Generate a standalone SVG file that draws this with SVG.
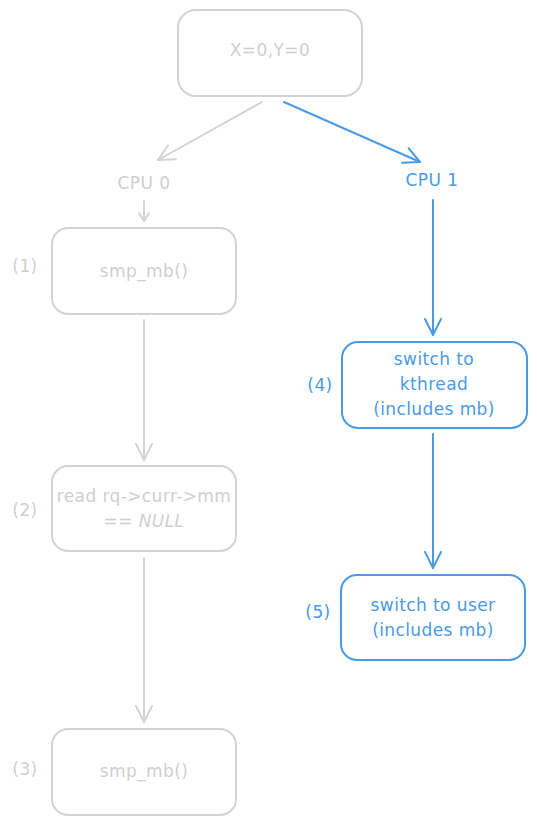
<svg xmlns="http://www.w3.org/2000/svg" width="537" height="825" viewBox="0 0 537 825">
<style>
.g{fill:none;stroke:#d3d3d3;stroke-width:2;stroke-linecap:round;stroke-linejoin:round}
.b{fill:none;stroke:#4a9be3;stroke-width:2;stroke-linecap:round;stroke-linejoin:round}
.tg{font-family:"DejaVu Sans","Liberation Sans",sans-serif;font-size:17px;letter-spacing:0.4px;fill:#cfcfcf;text-anchor:middle}
.tb{font-family:"DejaVu Sans","Liberation Sans",sans-serif;font-size:17px;letter-spacing:0.4px;fill:#4a9be3;text-anchor:middle}
</style>
<defs>
<marker id="ag" viewBox="-20 -12 24 24" markerWidth="24" markerHeight="24" refX="0" refY="0" orient="auto" markerUnits="userSpaceOnUse">
<path d="M-16,-8 L0,0 L-16,8" fill="none" stroke="#d3d3d3" stroke-width="2" stroke-linecap="round" stroke-linejoin="round"/>
</marker>
<marker id="agS" viewBox="-20 -12 24 24" markerWidth="24" markerHeight="24" refX="0" refY="0" orient="auto" markerUnits="userSpaceOnUse">
<path d="M-8,-5 L0,0 L-8,5" fill="none" stroke="#d3d3d3" stroke-width="2" stroke-linecap="round" stroke-linejoin="round"/>
</marker>
<marker id="ab" viewBox="-20 -12 24 24" markerWidth="24" markerHeight="24" refX="0" refY="0" orient="auto" markerUnits="userSpaceOnUse">
<path d="M-16,-8 L0,0 L-16,8" fill="none" stroke="#4a9be3" stroke-width="2" stroke-linecap="round" stroke-linejoin="round"/>
</marker>
</defs>
<g id="connectors">
<path class="g" d="M262,102 L158,160" marker-end="url(#ag)"/>
<path class="b" d="M284,102 L420,162" marker-end="url(#ab)"/>
<path class="g" d="M144,201 L144,221" marker-end="url(#agS)"/>
<path class="b" d="M433,200 L433,335" marker-end="url(#ab)"/>
<path class="g" d="M144,320 L144,460" marker-end="url(#ag)"/>
<path class="b" d="M433,434 L433,568" marker-end="url(#ab)"/>
<path class="g" d="M144,558 L144,722" marker-end="url(#ag)"/>
</g>
<g id="n-start">
<rect class="g" x="178" y="10" width="184" height="86" rx="18"/>
<text class="tg" x="270" y="56">X=0,Y=0</text>
</g>
<g id="n-cpu0"><text class="tg" x="144" y="189">CPU 0</text></g>
<g id="n-cpu1"><text class="tb" x="432" y="186">CPU 1</text></g>
<g id="n1">
<rect class="g" x="52" y="228" width="184" height="86" rx="16"/>
<text class="tg" x="144" y="277">smp_mb()</text>
<text class="tg" x="25" y="272">(1)</text>
</g>
<g id="n2">
<rect class="g" x="52" y="466" width="184" height="85" rx="16"/>
<text class="tg" x="144" y="502">read rq-&gt;curr-&gt;mm</text>
<text class="tg" x="144" y="527">== <tspan font-style="italic">NULL</tspan></text>
<text class="tg" x="25" y="516">(2)</text>
</g>
<g id="n3">
<rect class="g" x="52" y="729" width="184" height="86" rx="16"/>
<text class="tg" x="144" y="777">smp_mb()</text>
<text class="tg" x="25" y="775">(3)</text>
</g>
<g id="n4">
<rect class="b" x="342" y="342" width="185" height="86" rx="16"/>
<text class="tb" x="434" y="365">switch to</text>
<text class="tb" x="434" y="390">kthread</text>
<text class="tb" x="434" y="415">(includes mb)</text>
<text class="tb" x="320" y="391">(4)</text>
</g>
<g id="n5">
<rect class="b" x="341" y="575" width="184" height="85" rx="16"/>
<text class="tb" x="433" y="611">switch to user</text>
<text class="tb" x="433" y="636">(includes mb)</text>
<text class="tb" x="318" y="618">(5)</text>
</g>
</svg>
